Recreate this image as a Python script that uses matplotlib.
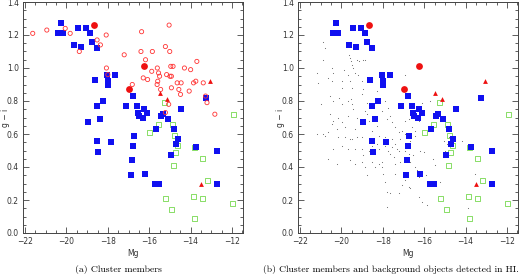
import matplotlib
matplotlib.use('Agg')
import matplotlib.pyplot as plt
from matplotlib.ticker import MultipleLocator, FormatStrFormatter

# blue filled squares: cluster members (both panels)
blue_mg = [-20.25, -20.43, -20.19, -19.44, -19.07, -18.88, -18.76, -19.65, -19.31, -18.52,
           -18.63, -18.04, -17.66, -17.99, -17.99, -18.23, -18.54, -18.38, -18.96, -17.11,
           -16.77, -16.60, -16.56, -16.51, -16.26, -16.09, -16.29, -16.74, -15.69, -15.43,
           -15.33, -15.11, -14.78, -14.59, -14.46, -13.26,
           -18.52, -18.47, -17.87, -16.74, -16.79, -16.82, -16.90, -16.21, -15.70, -15.51,
           -14.72, -14.94, -13.75, -12.73, -12.73]
blue_gi = [1.27, 1.21, 1.21, 1.24, 1.24, 1.21, 1.16, 1.14, 1.13, 1.12,
           0.93, 0.96, 0.96, 0.92, 0.90, 0.80, 0.77, 0.69, 0.67, 0.77,
           0.83, 0.77, 0.73, 0.71, 0.75, 0.73, 0.70, 0.59, 0.63, 0.71,
           0.72, 0.69, 0.63, 0.57, 0.75, 0.82,
           0.56, 0.49, 0.55, 0.59, 0.53, 0.44, 0.35, 0.36, 0.30, 0.30,
           0.54, 0.47, 0.52, 0.50, 0.30]

# green open squares
green_mg = [-15.28, -15.56, -14.88, -11.94, -15.98, -14.80, -14.64, -14.75, -14.85, -13.83,
            -13.42, -13.17, -13.42, -13.86, -15.22, -14.91, -13.80, -12.00]
green_gi = [0.79, 0.66, 0.66, 0.72, 0.61, 0.59, 0.53, 0.49, 0.41, 0.52,
            0.45, 0.32, 0.21, 0.22, 0.21, 0.14, 0.09, 0.18]

# red triangles
tri_mg = [-15.48, -15.12, -13.07, -13.50]
tri_gi = [0.85, 0.81, 0.92, 0.30]

# red filled circles
big_mg = [-18.65, -16.24, -17.00]
big_gi = [1.26, 1.01, 0.87]

# red open circles (left panel only)
circ_mg = [-21.63, -20.95, -20.06, -19.82, -19.38, -18.52, -18.36, -18.08, -18.07, -18.00,
           -17.21, -16.82, -16.37, -16.40, -16.18, -15.85, -16.29, -16.08, -15.88, -15.61,
           -15.55, -15.50, -15.59, -15.62, -15.22, -15.04, -15.01, -15.16, -15.00, -14.96,
           -14.85, -14.93, -15.45, -14.93, -14.65, -14.46, -14.30, -14.57, -14.49, -14.00,
           -14.07, -13.86, -13.70, -13.75, -13.39, -13.21, -13.28, -12.83, -15.22, -15.06]
circ_gi = [1.21, 1.23, 1.24, 1.21, 1.10, 1.17, 1.14, 1.20, 1.00, 0.96,
           1.08, 0.90, 1.22, 1.10, 1.05, 1.10, 0.94, 0.93, 0.98, 1.00,
           0.97, 0.95, 0.92, 0.90, 1.13, 1.26, 1.10, 0.96, 0.95, 1.01,
           1.01, 0.95, 0.87, 0.88, 0.91, 0.91, 1.00, 0.87, 0.84, 0.99,
           0.86, 0.91, 1.04, 0.92, 0.91, 0.79, 0.83, 0.72, 0.73, 0.78]

# background objects detected in HI (right panel only)
bg_mg = [-20.87, -20.79, -20.90, -21.19, -21.15, -20.66, -20.44, -20.39, -20.47, -19.90,
         -19.98, -19.98, -19.63, -19.58, -19.53, -19.50, -19.42, -19.34, -19.69, -19.61,
         -19.50, -19.26, -19.15, -18.94, -18.85, -19.21, -19.02, -18.94, -20.98, -20.55,
         -20.39, -20.11, -19.98, -19.66, -19.56, -19.50, -19.42, -19.23, -20.55, -20.39,
         -20.44, -20.15, -19.98, -19.82, -19.66, -19.34, -19.02, -18.77, -18.69, -18.53,
         -18.29, -18.05, -17.81, -17.65, -17.56, -17.40, -17.24, -17.08, -16.92, -16.76,
         -16.60, -16.92, -16.68, -16.44, -16.27, -16.11, -15.71, -15.79, -15.47, -17.89,
         -17.73, -18.29, -18.13, -19.02, -18.85, -18.77, -18.53, -20.23, -20.63, -20.87,
         -21.19, -20.79, -20.15, -19.82, -19.58, -19.47, -19.26, -19.02, -20.39, -19.98,
         -19.66, -19.34, -19.02, -18.94, -18.69, -18.53, -18.29, -18.21, -17.89, -17.76,
         -17.65, -17.56, -17.48, -17.40, -17.32, -17.24, -17.40, -17.16, -16.92, -16.92,
         -16.76, -16.68, -16.52, -16.44, -16.35, -16.27, -16.11, -15.90, -15.79, -15.23,
         -15.47, -15.58, -14.98, -14.74, -20.63, -20.23, -19.58, -19.34, -19.02, -18.85,
         -18.77, -18.53, -18.37, -18.21, -18.05, -18.05, -17.97, -17.89, -17.81, -17.65,
         -17.40, -17.24, -17.08, -16.92, -16.76, -16.68, -16.27, -16.11, -16.19, -16.03,
         -15.06, -14.90, -14.82, -14.66, -14.18, -13.90, -13.53, -15.87, -18.21, -17.89,
         -17.56, -17.16, -16.92, -16.68, -16.44, -17.81]
bg_gi = [1.16, 1.12, 1.05, 0.97, 0.91, 0.94, 1.00, 0.97, 0.92, 0.99,
         0.92, 0.88, 1.08, 1.06, 1.04, 1.02, 1.00, 0.97, 0.96, 0.92,
         0.88, 1.05, 1.04, 1.05, 1.05, 0.96, 0.92, 0.87, 0.78, 0.83,
         0.80, 0.82, 0.78, 0.80, 0.81, 0.78, 0.75, 0.70, 0.72, 0.68,
         0.66, 0.70, 0.67, 0.64, 0.71, 0.63, 0.66, 0.72, 0.68, 0.62,
         0.65, 0.74, 0.69, 0.71, 0.67, 0.64, 0.61, 0.62, 0.68, 0.69,
         0.64, 0.96, 0.79, 0.62, 0.68, 0.79, 0.80, 0.65, 0.64, 0.80,
         0.76, 0.86, 0.80, 0.84, 0.74, 0.79, 0.78, 0.63, 0.61, 0.60,
         0.60, 0.59, 0.58, 0.58, 0.57, 0.57, 0.58, 0.58, 0.51, 0.53,
         0.51, 0.51, 0.51, 0.47, 0.50, 0.53, 0.54, 0.51, 0.53, 0.50,
         0.48, 0.52, 0.46, 0.54, 0.51, 0.50, 0.42, 0.43, 0.50, 0.46,
         0.48, 0.43, 0.47, 0.40, 0.38, 0.34, 0.37, 0.35, 0.30, 0.31,
         0.41, 0.45, 0.50, 0.53, 0.45, 0.42, 0.44, 0.42, 0.43, 0.40,
         0.35, 0.43, 0.40, 0.42, 0.43, 0.40, 0.36, 0.31, 0.25, 0.24,
         0.36, 0.24, 0.29, 0.32, 0.28, 0.27, 0.22, 0.19, 0.50, 0.49,
         0.56, 0.54, 0.58, 0.57, 0.56, 0.15, 0.36, 0.17, 0.59, 0.58,
         0.57, 0.57, 0.60, 0.56, 0.59, 0.16]

captions = ['(a) Cluster members', '(b) Cluster members and background objects detected in HI.']

BLUE = '#1010f0'
RED = '#ee1111'
GREEN = '#88dd66'
W, H = 520, 274


def style_axes(ax):
    ax.set_xlim(-22.1, -11.47)
    ax.set_ylim(0, 1.4)
    ax.xaxis.set_major_locator(MultipleLocator(2))
    ax.xaxis.set_minor_locator(MultipleLocator(0.5))
    ax.yaxis.set_major_locator(MultipleLocator(0.2))
    ax.yaxis.set_minor_locator(MultipleLocator(0.05))
    ax.yaxis.set_major_formatter(FormatStrFormatter('%.1f'))
    ax.tick_params(which='both', direction='in', top=True, right=True,
                   width=0.6, color='#444444', labelsize=5.5, labelcolor='#333333', pad=3)
    ax.tick_params(which='major', length=4)
    ax.tick_params(which='minor', length=2)
    for s in ax.spines.values():
        s.set_linewidth(0.7)
        s.set_color('#444444')
    ax.set_xlabel('Mg', fontsize=5.5, color='#333333', labelpad=2)
    ax.set_ylabel('g \u2212 i', fontsize=5.5, color='#333333')
    ax.yaxis.set_label_coords(-13 / 220, 0.5)


def members(ax):
    ax.scatter(green_mg, green_gi, s=13, marker='s', facecolors='none',
               edgecolors=GREEN, linewidths=0.7, zorder=3)
    ax.scatter(blue_mg, blue_gi, s=13, marker='s', c=BLUE, linewidths=0, zorder=4)
    ax.scatter(tri_mg, tri_gi, s=12, marker='^', c=RED, linewidths=0, zorder=5)
    ax.scatter(big_mg, big_gi, s=24, marker='o', c=RED, linewidths=0, zorder=5)


fig = plt.figure(figsize=(W / 100, H / 100), dpi=100)

ax1 = fig.add_axes([23 / W, 41 / H, 220 / W, 231 / H])
style_axes(ax1)
members(ax1)
ax1.scatter(circ_mg, circ_gi, s=9, marker='o', facecolors='none',
            edgecolors='#ff3333', linewidths=0.6, zorder=6)

ax2 = fig.add_axes([298 / W, 41 / H, 220 / W, 231 / H])
style_axes(ax2)
ax2.scatter(bg_mg, bg_gi, s=0.6, c='#666666', linewidths=0, zorder=2)
members(ax2)

fig.text(118 / W, 1 - 269 / H, captions[0], family='cmr10', fontsize=7,
         ha='center', va='center')
fig.text(391 / W, 1 - 269 / H, captions[1], family='cmr10', fontsize=6.9,
         ha='center', va='center')

fig.savefig('out.png', dpi=100)
